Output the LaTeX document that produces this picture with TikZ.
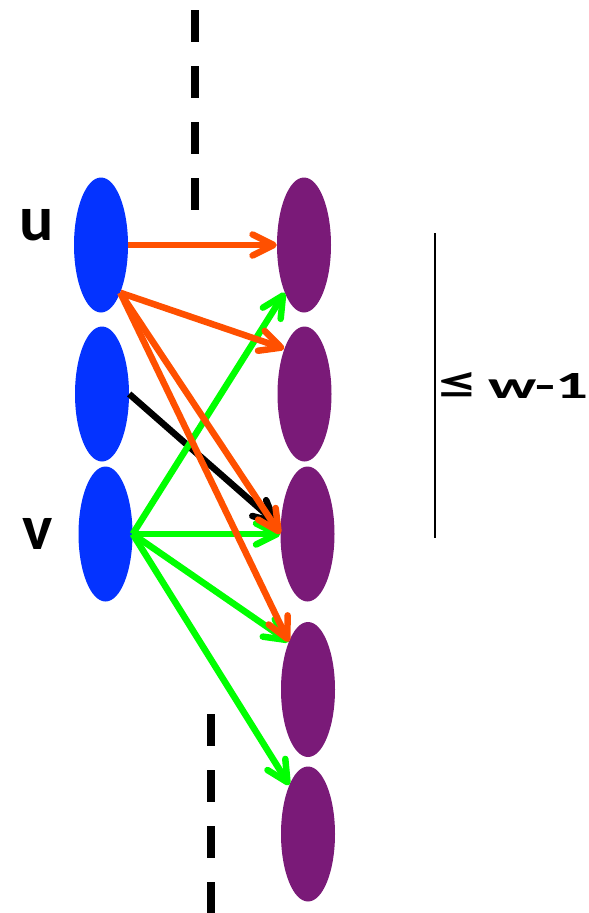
\documentclass[tikz,border=0pt]{standalone}
\usepackage{fontspec}
\setmainfont{Carlito}
\usetikzlibrary{shapes.geometric,arrows.meta}
\definecolor{nodeblue}{HTML}{0433FF}
\definecolor{nodepurple}{HTML}{7A1A78}
\definecolor{arrorange}{HTML}{FF5000}
\definecolor{arrgreen}{HTML}{00FF00}
\begin{document}
\begin{tikzpicture}[x=1pt,y=-1pt,
  leftnode/.style={ellipse, fill=nodeblue, minimum width=54pt, minimum height=135pt, inner sep=0pt},
  rightnode/.style={ellipse, fill=nodepurple, minimum width=54pt, minimum height=135pt, inner sep=0pt},
  arr/.style={line width=6.5pt, -{Straight Barb[length=21pt,width=21pt,round]}},
  cut/.style={line width=8pt, dash pattern=on 32pt off 24pt},
  lbl/.style={font=\bfseries\fontsize{64}{64}\selectfont, inner sep=0pt}]
\useasboundingbox (0,0) rectangle (589,913);
% dashed cut lines
\coordinate (cuttopa) at (195,10);
\coordinate (cuttopb) at (195,210);
\coordinate (cutbota) at (211,714);
\coordinate (cutbotb) at (211,913);
\draw[cut] (cuttopa) -- (cuttopb);
\draw[cut] (cutbota) -- (cutbotb);
% nodes
\node[leftnode] (u) at (101,245) {};
\node[leftnode] (m) at (102,394) {};
\node[leftnode] (v) at (105.5,534) {};
\node[rightnode] (p1) at (304,245) {};
\node[rightnode] (p2) at (304.5,394) {};
\node[rightnode] (p3) at (307.5,534) {};
\node[rightnode] (p4) at (308,689.5) {};
\node[rightnode] (p5) at (308,834) {};
% labels
\node[lbl] (ul) at (36.5,225) {u};
\node[lbl] (vl) at (38,533.5) {v};
% black
\draw[arr, black, shorten >=4pt] (m.east) -- (p3.165);
% green
\draw[arr, arrgreen] (v.east) -- (p1.-112);
\draw[arr, arrgreen] (v.east) -- (p3.west);
\draw[arr, arrgreen] (v.east) -- (p4.112);
\draw[arr, arrgreen] (v.east) -- (p5.111);
% orange
\draw[arr, arrorange] (u.east) -- (p1.west);
\draw[arr, arrorange] (u.-68) -- (p2.114);
\draw[arr, arrorange] (u.-68) -- (p3.west);
\draw[arr, arrorange] (u.-68) -- (p4.112);
% bound
\coordinate (bra) at (435,233);
\coordinate (brb) at (435,538);
\draw[line width=1.5pt] (bra) -- (brb);
\node[inner sep=0pt, anchor=base west, font=\bfseries\fontsize{40}{40}\selectfont] (wl) at (438,398)
  {\resizebox*{40pt}{26pt}{≤}\hspace{10pt}\resizebox{100pt}{25pt}{w-1}};
\end{tikzpicture}
\end{document}
